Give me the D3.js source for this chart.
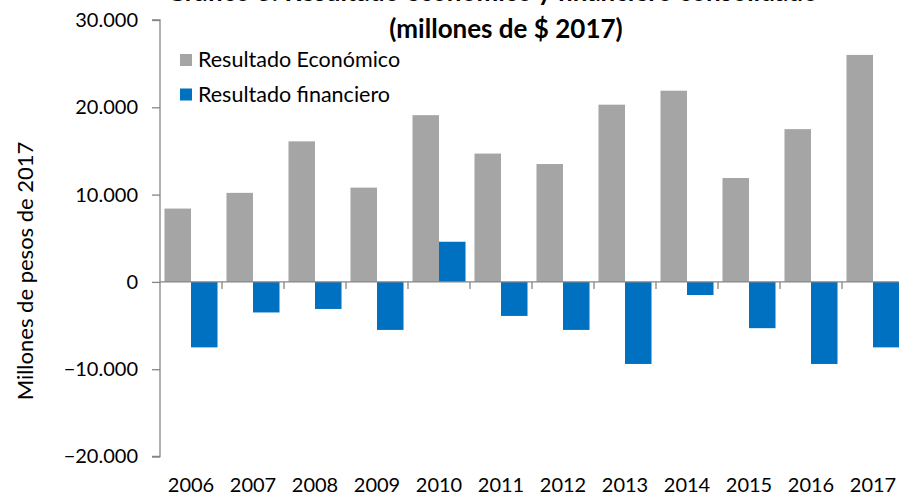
<!DOCTYPE html>
<html><head><meta charset="utf-8">
<script src="https://cdn.jsdelivr.net/npm/d3@7"></script>
<style>
html,body{margin:0;padding:0;background:#fff;}
svg{display:block;font-family:Lato,"Open Sans",sans-serif;}
</style></head>
<body>
<svg id="chart" width="899" height="497"></svg>
<script>
const years = ["2006","2007","2008","2009","2010","2011","2012","2013","2014","2015","2016","2017"];
const resultadoEconomico = [8400,10200,16100,10800,19100,14700,13500,20300,21900,11900,17500,26000];
const resultadoFinanciero = [-7500,-3500,-3100,-5500,4600,-3900,-5500,-9400,-1500,-5300,-9400,-7500];
const seriesNames = ["Resultado Económico","Resultado financiero"];
const yTicks = [-20000,-10000,0,10000,20000,30000];
const titleLines = ["Gráfico 3: Resultado económico y financiero consolidado","(millones de $ 2017)"];
const yTitle = "Millones de pesos de 2017";

(function(){
const colors = ["#a5a5a5","#0070c0"];
const svg = d3.select("#chart");
const pLeft = 160, pRight = 904, pTop = 20, pBottom = 456.5;

const loc = d3.formatLocale({decimal:",",thousands:".",grouping:[3],currency:["$",""]});
const fmt = loc.format(",d");

const y = d3.scaleLinear().domain([-20000,30000]).range([pBottom, pTop]);
const x0 = d3.scaleBand().domain(years).range([pLeft, pRight]).paddingInner(0.145).paddingOuter(0.0725);
const x1 = d3.scaleBand().domain([0,1]).range([0, x0.bandwidth()]);
const step = x0.step();

const data = years.map((yr,i)=>({yr, vals:[resultadoEconomico[i], resultadoFinanciero[i]]}));
const g = svg.append("g");
data.forEach(d=>{
  d.vals.forEach((v,k)=>{
    g.append("rect")
      .attr("x", x0(d.yr)+x1(k))
      .attr("width", x1.bandwidth())
      .attr("y", y(Math.max(0,v)))
      .attr("height", Math.abs(y(v)-y(0)))
      .attr("fill", colors[k]);
  });
});

const yAxis = d3.axisLeft(y).tickValues(yTicks).tickFormat(fmt).tickSize(8).tickPadding(14);
const ya = svg.append("g").attr("transform",`translate(${pLeft},0)`).call(yAxis);
ya.select(".domain").attr("stroke","#868686").attr("stroke-width",1.3).attr("d",`M-8,${pTop}H0V${pBottom}H-8`);
ya.selectAll(".tick line").attr("stroke","#868686").attr("stroke-width",1.3);
ya.selectAll(".tick text").attr("font-size",20).attr("fill","#000").attr("font-family","Lato");

svg.append("line").attr("x1",pLeft).attr("x2",899).attr("y1",y(0)).attr("y2",y(0))
  .attr("stroke","#868686").attr("stroke-width",1.3);
years.forEach(yr=>{
  const bx = x0(yr) + x0.bandwidth() + step*x0.paddingInner()/2;
  svg.append("line").attr("x1",bx).attr("x2",bx).attr("y1",y(0)).attr("y2",y(0)+7)
    .attr("stroke","#868686").attr("stroke-width",1.3);
});
years.forEach(yr=>{
  svg.append("text").attr("x", x0(yr)+x0.bandwidth()/2).attr("y",492)
    .attr("text-anchor","middle").attr("font-size",20).attr("fill","#000").text(yr);
});

svg.append("text").attr("transform","translate(33,271) rotate(-90)")
  .attr("text-anchor","middle").attr("font-size",22).attr("fill","#000").text(yTitle);

svg.append("text").attr("x",492).attr("y",1).attr("text-anchor","middle")
  .attr("font-size",26).attr("font-weight","bold").attr("fill","#000").text(titleLines[0]);
svg.append("text").attr("x",506).attr("y",38).attr("text-anchor","middle")
  .attr("font-size",26).attr("font-weight","bold").attr("fill","#000").text(titleLines[1]);

seriesNames.forEach((n,k)=>{
  const ly = 53 + k*34.5;
  svg.append("rect").attr("x",180).attr("y",ly+1).attr("width",12).attr("height",12).attr("fill",colors[k]);
  svg.append("text").attr("x",198).attr("y",ly+14).attr("font-size",21.5).attr("fill","#000").text(n);
});
})();
</script>
</body></html>
